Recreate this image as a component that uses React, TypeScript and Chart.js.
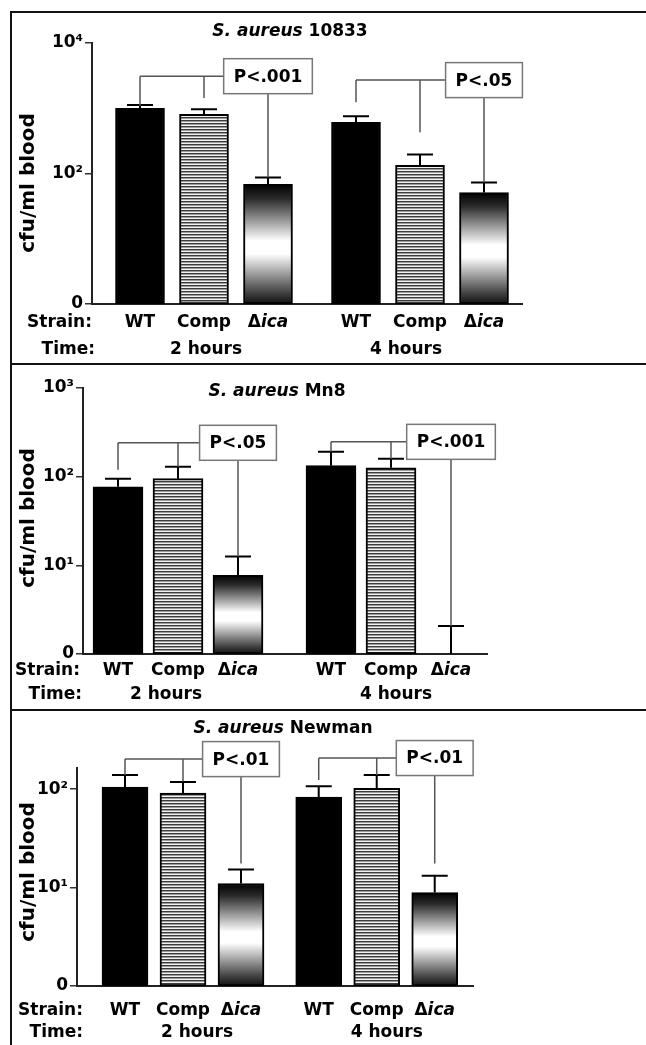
import React, { useEffect, useRef } from "react";
import { Chart, registerables } from "chart.js";

Chart.register(...registerables);

// ---------- data ----------
const strains = ["WT", "Comp", "Δica", "WT", "Comp", "Δica"];
const timeLabels = ["2 hours", "4 hours"];

// Panel 1: S. aureus 10833
const p1Means: (number | null)[] = [1000, 810, 68, 610, 133, 51];
const p1ErrTop = [1120, 966, 87, 753, 196, 73];
const p1BracketEnds = [1070, 1430, 87, 1240, 428, 73];
const p1BracketLevels = [3100, 2700];
const p1PValues = ["P<.001", "P<.05"];
const p1Ticks = [1, 100, 10000];
const p1TickLabels = ["0", "10²", "10⁴"];

// Panel 2: S. aureus Mn8
const p2Means: (number | null)[] = [77, 95, 7.7, 133, 126, null];
const p2ErrTop = [95, 129, 12.6, 191, 159, 2.07];
const p2BracketEnds = [120, 129, 12.6, 191, 159, 2.07];
const p2BracketLevels = [241, 247];
const p2PValues = ["P<.05", "P<.001"];
const p2Ticks = [1, 10, 100, 1000];
const p2TickLabels = ["0", "10¹", "10²", "10³"];

// Panel 3: S. aureus Newman
const p3Means: (number | null)[] = [105, 91, 11, 83, 102, 8.9];
const p3ErrTop = [139, 118, 15.3, 107, 139, 13.2];
const p3BracketEnds = [139, 120, 17.6, 124, 139, 17.6];
const p3BracketLevels = [202, 207];
const p3PValues = ["P<.01", "P<.01"];
const p3Ticks = [1, 10, 100];
const p3TickLabels = ["0", "10¹", "10²"];

// ---------- layout ----------
const W = 646;
const FONT = '"DejaVu Sans", Verdana, sans-serif';

type Panel = {
  name: string;
  means: (number | null)[];
  errTop: number[];
  ends: number[];
  levels: number[];
  pvals: string[];
  ticks: number[];
  tickLabels: string[];
  top: number;
  height: number;
  area: { left: number; right: number; top: number; bottom: number };
  yMax: number;
  c0: number;
  u: number;
  gap: number;
  barWidth: number;
  titleX: number;
  titleY: number;
  strainY: number;
  timeY: number;
  strainRight: number;
  timeRight: number;
  timeDx: number[];
  yLabelY: number;
};

const panels: Panel[] = [
  {
    name: "10833", means: p1Means, errTop: p1ErrTop, ends: p1BracketEnds, levels: p1BracketLevels,
    pvals: p1PValues, ticks: p1Ticks, tickLabels: p1TickLabels,
    top: 0, height: 364, area: { left: 92, right: 522, top: 43, bottom: 304 }, yMax: 10000,
    c0: 140, u: 64, gap: 0.375, barWidth: 49,
    titleX: 290, titleY: 32, strainY: 323, timeY: 350, strainRight: 92, timeRight: 95,
    timeDx: [2, -14], yLabelY: 183,
  },
  {
    name: "Mn8", means: p2Means, errTop: p2ErrTop, ends: p2BracketEnds, levels: p2BracketLevels,
    pvals: p2PValues, ticks: p2Ticks, tickLabels: p2TickLabels,
    top: 364, height: 346, area: { left: 83, right: 487, top: 24, bottom: 290 }, yMax: 1000,
    c0: 118, u: 60, gap: 0.55, barWidth: 50,
    titleX: 277, titleY: 28, strainY: 307, timeY: 331, strainRight: 80, timeRight: 82,
    timeDx: [-12, 5], yLabelY: 154,
  },
  {
    name: "Newman", means: p3Means, errTop: p3ErrTop, ends: p3BracketEnds, levels: p3BracketLevels,
    pvals: p3PValues, ticks: p3Ticks, tickLabels: p3TickLabels,
    top: 710, height: 335, area: { left: 77, right: 473, top: 58, bottom: 276 }, yMax: 164,
    c0: 125, u: 58, gap: 0.34, barWidth: 46,
    titleX: 283, titleY: 19, strainY: 301, timeY: 323, strainRight: 83, timeRight: 83,
    timeDx: [14, 10], yLabelY: 162,
  },
];

const slotsFor = (gap: number) => [0, 1, 2, 3 + gap, 4 + gap, 5 + gap];

function makeStripes(): CanvasPattern | string {
  const c = document.createElement("canvas");
  c.width = 4;
  c.height = 3;
  const g = c.getContext("2d");
  if (!g) return "#999";
  g.fillStyle = "#3c3c3c";
  g.fillRect(0, 0, 4, 1);
  g.fillStyle = "#9c9c9c";
  g.fillRect(0, 1, 4, 1);
  g.fillStyle = "#f2f2f2";
  g.fillRect(0, 2, 4, 1);
  return g.createPattern(c, "repeat") || "#999";
}

function drawDeltaIca(ctx: CanvasRenderingContext2D, cx: number, y: number, size: number) {
  ctx.save();
  ctx.textBaseline = "middle";
  ctx.textAlign = "left";
  ctx.font = `bold ${size}px ${FONT}`;
  const w1 = ctx.measureText("Δ").width;
  ctx.font = `italic bold ${size}px ${FONT}`;
  const w2 = ctx.measureText("ica").width;
  const x0 = cx - (w1 + w2) / 2;
  ctx.font = `bold ${size}px ${FONT}`;
  ctx.fillText("Δ", x0, y);
  ctx.font = `italic bold ${size}px ${FONT}`;
  ctx.fillText("ica", x0 + w1, y);
  ctx.restore();
}

function buildConfig(p: Panel) {
  const xs = slotsFor(p.gap);
  const stripes = makeStripes();
  const xMin = (p.area.left - p.c0) / p.u;
  const xMax = (p.area.right - p.c0) / p.u;

  const decor = {
    id: "decor",
    afterDatasetsDraw(chart: any) {
      const ctx: CanvasRenderingContext2D = chart.ctx;
      const xS = chart.scales.x;
      const yS = chart.scales.y;
      const base = chart.chartArea.bottom;
      const px = (i: number) => xS.getPixelForValue(xs[i]);

      // error bars
      ctx.save();
      ctx.strokeStyle = "#000";
      ctx.lineWidth = 2;
      p.errTop.forEach((e, i) => {
        const cx = px(i);
        const m = p.means[i];
        const top = m == null ? base : yS.getPixelForValue(m);
        const ey = yS.getPixelForValue(e);
        ctx.beginPath();
        ctx.moveTo(cx, top);
        ctx.lineTo(cx, ey);
        ctx.moveTo(cx - 13, ey);
        ctx.lineTo(cx + 13, ey);
        ctx.stroke();
      });
      ctx.restore();

      // significance brackets
      ctx.save();
      ctx.font = `bold 17px ${FONT}`;
      p.levels.forEach((lv, g) => {
        const i0 = g * 3;
        const ly = yS.getPixelForValue(lv);
        const tw = ctx.measureText(p.pvals[g]).width;
        const bw = tw + 20;
        const bh = 35;
        const bcx = px(i0 + 2);
        const bl = bcx - bw / 2;
        const bt = ly - bh / 2;
        ctx.strokeStyle = "#555";
        ctx.lineWidth = 1.5;
        ctx.beginPath();
        ctx.moveTo(px(i0), ly);
        ctx.lineTo(bl, ly);
        ctx.moveTo(px(i0), ly);
        ctx.lineTo(px(i0), yS.getPixelForValue(p.ends[i0]));
        ctx.moveTo(px(i0 + 1), ly);
        ctx.lineTo(px(i0 + 1), yS.getPixelForValue(p.ends[i0 + 1]));
        ctx.moveTo(bcx, bt + bh);
        ctx.lineTo(bcx, yS.getPixelForValue(p.ends[i0 + 2]));
        ctx.stroke();
        ctx.fillStyle = "#fff";
        ctx.fillRect(bl, bt, bw, bh);
        ctx.strokeStyle = "#777";
        ctx.strokeRect(bl, bt, bw, bh);
        ctx.fillStyle = "#000";
        ctx.textAlign = "center";
        ctx.textBaseline = "middle";
        ctx.fillText(p.pvals[g], bcx, ly + 1);
      });
      ctx.restore();
    },
    afterDraw(chart: any) {
      const ctx: CanvasRenderingContext2D = chart.ctx;
      const xS = chart.scales.x;
      const px = (i: number) => xS.getPixelForValue(xs[i]);
      ctx.save();
      ctx.fillStyle = "#000";
      ctx.textBaseline = "middle";

      // title
      ctx.font = `italic bold 17px ${FONT}`;
      const t1 = "S. aureus ";
      const w1 = ctx.measureText(t1).width;
      ctx.font = `bold 17px ${FONT}`;
      const w2 = ctx.measureText(p.name).width;
      const tx = p.titleX - (w1 + w2) / 2;
      ctx.textAlign = "left";
      ctx.font = `italic bold 17px ${FONT}`;
      ctx.fillText(t1, tx, p.titleY);
      ctx.font = `bold 17px ${FONT}`;
      ctx.fillText(p.name, tx + w1, p.titleY);

      // row labels
      ctx.font = `bold 17px ${FONT}`;
      ctx.textAlign = "right";
      ctx.fillText("Strain:", p.strainRight, p.strainY);
      ctx.fillText("Time:", p.timeRight, p.timeY);

      ctx.textAlign = "center";
      strains.forEach((s, i) => {
        if (s === "Δica") drawDeltaIca(ctx, px(i), p.strainY, 17);
        else {
          ctx.font = `bold 17px ${FONT}`;
          ctx.fillText(s, px(i), p.strainY);
        }
      });
      ctx.font = `bold 17px ${FONT}`;
      timeLabels.forEach((t, g) => {
        ctx.fillText(t, px(g * 3 + 1) + p.timeDx[g], p.timeY);
      });

      // y axis title
      ctx.save();
      ctx.translate(29, p.yLabelY);
      ctx.rotate(-Math.PI / 2);
      ctx.font = `bold 20px ${FONT}`;
      ctx.textAlign = "center";
      ctx.fillText("cfu/ml blood", 0, 0);
      ctx.restore();
      ctx.restore();
    },
  };

  return {
    type: "bar" as const,
    data: {
      datasets: [
        {
          data: p.means.map((v, i) => ({ x: xs[i], y: v })),
          backgroundColor: (c: any) => {
            if (c.type !== "data") return "#000";
            const i = c.dataIndex;
            const kind = i % 3;
            if (kind === 0) return "#000";
            if (kind === 1) return stripes;
            const chart = c.chart;
            const ys = chart.scales && chart.scales.y;
            const v = p.means[i];
            if (!chart.chartArea || !ys || v == null) return "#888";
            const top = ys.getPixelForValue(v);
            const bot = chart.chartArea.bottom;
            const gr = chart.ctx.createLinearGradient(0, top, 0, bot);
            gr.addColorStop(0, "#000");
            gr.addColorStop(0.12, "#2a2a2a");
            gr.addColorStop(0.47, "#ffffff");
            gr.addColorStop(0.58, "#ffffff");
            gr.addColorStop(0.9, "#444");
            gr.addColorStop(1, "#111");
            return gr;
          },
          borderColor: "#000",
          borderWidth: 2,
          borderSkipped: false,
          barThickness: p.barWidth,
        },
      ],
    },
    options: {
      responsive: false,
      animation: false,
      devicePixelRatio: 1,
      layout: {
        padding: {
          left: p.area.left - 60,
          right: W - p.area.right,
          top: p.area.top,
          bottom: p.height - p.area.bottom,
        },
      },
      plugins: {
        legend: { display: false },
        tooltip: { enabled: false },
        title: { display: false },
      },
      scales: {
        x: {
          type: "linear",
          offset: false,
          min: xMin,
          max: xMax,
          ticks: { display: false },
          grid: { display: false, offset: false },
          border: { display: true, color: "#222", width: 2 },
          afterFit: (s: any) => {
            s.height = 0;
          },
        },
        y: {
          type: "logarithmic",
          min: 1,
          max: p.yMax,
          afterFit: (s: any) => {
            s.width = 60;
          },
          afterBuildTicks: (s: any) => {
            s.ticks = p.ticks.map((v) => ({ value: v }));
          },
          ticks: {
            autoSkip: false,
            padding: 2,
            color: "#000",
            font: { family: FONT, weight: "bold", size: 17 },
            callback: (v: any) => {
              const k = p.ticks.findIndex((t) => Math.abs(t - Number(v)) < 1e-6 * t);
              return k >= 0 ? p.tickLabels[k] : "";
            },
          },
          grid: { drawOnChartArea: false, drawTicks: true, tickLength: 7, color: "#333", lineWidth: 1.5 },
          border: { display: true, color: "#222", width: 2 },
        },
      },
    },
    plugins: [decor],
  };
}

function PanelChart({ p }: { p: Panel }) {
  const ref = useRef<HTMLCanvasElement>(null);
  useEffect(() => {
    if (!ref.current) return;
    const chart = new Chart(ref.current, buildConfig(p) as any);
    return () => chart.destroy();
  }, [p]);
  return (
    <canvas
      ref={ref}
      width={W}
      height={p.height}
      style={{ position: "absolute", left: 0, top: p.top, width: W, height: p.height }}
    />
  );
}

export default function App() {
  const line = (s: React.CSSProperties) => (
    <div style={{ position: "absolute", background: "#111", ...s }} />
  );
  return (
    <div style={{ position: "absolute", left: 0, top: 0, width: W, height: 1045, background: "#fff", overflow: "hidden" }}>
      {panels.map((p) => (
        <PanelChart key={p.name} p={p} />
      ))}
      {line({ left: 10, top: 11, width: 636, height: 2 })}
      {line({ left: 10, top: 11, width: 2, height: 1034 })}
      {line({ left: 10, top: 363, width: 636, height: 2 })}
      {line({ left: 10, top: 709, width: 636, height: 2 })}
    </div>
  );
}
